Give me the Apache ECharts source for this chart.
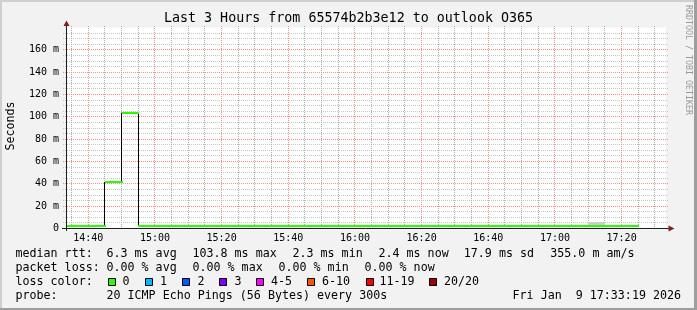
<!DOCTYPE html>
<html><head><meta charset="utf-8">
<script src="https://cdn.jsdelivr.net/npm/echarts@6/dist/echarts.min.js"></script>
<style>html,body{margin:0;padding:0;background:#f2f2f2}#c{width:697px;height:310px}</style>
</head><body><div id="c"></div>
<script>
// ---- data ----
const windowStart = '14:33:19';
const windowEnd = '17:33:19';
const stepMinutes = 5;            // rrd step 300 s
// interval end times of each 5-minute sample
const times = ['14:35','14:40','14:45','14:50','14:55',
  '15:00','15:05','15:10','15:15','15:20','15:25','15:30','15:35','15:40','15:45','15:50','15:55',
  '16:00','16:05','16:10','16:15','16:20','16:25','16:30','16:35','16:40','16:45','16:50','16:55',
  '17:00','17:05','17:10','17:15','17:20','17:25'];
// median rtt in ms
const medianMs = [2.4, 2.3, 2.4, 41.2, 103.8,
  2.4, 2.3, 2.4, 2.5, 2.4, 2.3, 2.4, 2.4, 2.3, 2.4, 2.5, 2.4,
  2.3, 2.4, 2.4, 2.3, 2.4, 2.4, 2.5, 2.4, 2.3, 2.4, 2.4, 2.3,
  2.4, 2.4, 2.3, 2.5, 2.4, 2.4];
// visible smoke (ping spread)
const smokeTimes = ['17:15'];
const smokeLowMs = [2.3];
const smokeHighMs = [5.6];
// axis ticks
const xTickLabels = ['14:40','15:00','15:20','15:40','16:00','16:20','16:40','17:00','17:20'];
const xMinorTicks = ['14:35','14:45','14:50','14:55','15:05','15:10','15:15','15:25','15:30','15:35',
  '15:45','15:50','15:55','16:05','16:10','16:15','16:25','16:30','16:35','16:45','16:50','16:55',
  '17:05','17:10','17:15','17:25','17:30'];
const yTickValues = [20, 40, 60, 80, 100, 120, 140, 160];
const yMax = 180, yInterval = 20, yMinorStep = 5;

const titleText = 'Last 3 Hours from 65574b2b3e12 to outlook O365';
const rttRow = ['median rtt:', '6.3 ms avg', '103.8 ms max', '2.3 ms min', '2.4 ms now', '17.9 ms sd', '355.0 m am/s'];
const lossRow = ['packet loss:', '0.00 % avg', '0.00 % max', '0.00 % min', '0.00 % now'];
const lossColorLabels = ['0','1','2','3','4-5','6-10','11-19','20/20'];
const lossColors = ['#26ff00','#00b8ff','#0059ff','#7e00ff','#ff00ff','#ff5500','#ff0000','#a10000'];
const probeText = '20 ICMP Echo Pings (56 Bytes) every 300s';
const dateText = 'Fri Jan  9 17:33:19 2026';

// ---- helpers ----
function toMin(s){ const p = s.split(':').map(Number); return p[0]*60 + p[1] + (p[2]||0)/60; }
function fmt(m){ const h = Math.floor(m/60), mm = Math.round(m - h*60); return String(h).padStart(2,'0') + ':' + String(mm).padStart(2,'0'); }
const xMin = toMin(windowStart), xMax = toMin(windowEnd);
const majorX = xTickLabels.map(toMin);
const minorX = xMinorTicks.map(toMin);
const minorY = [];
for (let v = yMinorStep; v < yMax; v += yMinorStep) { if (v % yInterval !== 0) minorY.push(v); }

const segData = times.map((t,i) => [toMin(t) - stepMinutes, toMin(t), medianMs[i]]);
const jumpData = [];
for (let i = 1; i < times.length; i++) jumpData.push([toMin(times[i]) - stepMinutes, medianMs[i-1], medianMs[i]]);
const smokeData = smokeTimes.map((t,i) => [toMin(t) - stepMinutes, toMin(t), smokeLowMs[i], smokeHighMs[i]]);

const MONO = '"DejaVu Sans Mono", monospace';
const F = 11.67;
const MINOR_C = '#c6c6c6', MINOR_V = '#adadad', MAJOR_C = '#ec9090';
const chart = echarts.init(document.getElementById('c'), null, {renderer:'canvas'});
const snap = v => Math.floor(v) + 0.5;

function vgrid(color){
  return function(params, api){
    const v = api.value(0);
    const a = api.coord([v, yMax]), b = api.coord([v, 0]);
    const x = snap(a[0]);
    return {type:'line', shape:{x1:x, y1:Math.floor(a[1]) - 1, x2:x, y2:Math.round(b[1])},
      style:{stroke:color, lineWidth:1, lineDash:[1,1]}};
  };
}
function hgrid(color){
  return function(params, api){
    const v = api.value(1);
    const a = api.coord([xMin, v]), b = api.coord([xMax, v]);
    const y = snap(a[1]);
    return {type:'line', shape:{x1:Math.round(a[0])-3, y1:y, x2:Math.round(b[0])+2, y2:y},
      style:{stroke:color, lineWidth:1, lineDash:[1,1]}};
  };
}

const G = [];
// frame
G.push({type:'rect', shape:{x:0,y:0,width:697,height:2}, style:{fill:'#cfcfcf'}, z:100});
G.push({type:'rect', shape:{x:0,y:0,width:2,height:310}, style:{fill:'#cfcfcf'}, z:100});
G.push({type:'rect', shape:{x:0,y:308,width:697,height:2}, style:{fill:'#9e9e9e'}, z:101});
G.push({type:'rect', shape:{x:694,y:0,width:3,height:310}, style:{fill:'#9e9e9e'}, z:101});
// axes lines + arrows
G.push({type:'line', shape:{x1:66.5,y1:25,x2:66.5,y2:231}, style:{stroke:'#1f1f1f', lineWidth:1}, z:50});
G.push({type:'line', shape:{x1:62,y1:228.5,x2:669,y2:228.5}, style:{stroke:'#1f1f1f', lineWidth:1}, z:50});
G.push({type:'polygon', shape:{points:[[66.5,20.5],[63.5,26],[69.5,26]]}, style:{fill:'#801f1f'}, z:51});
G.push({type:'polygon', shape:{points:[[674.5,228.5],[668.5,225.5],[668.5,231.5]]}, style:{fill:'#801f1f'}, z:51});
// title
G.push({type:'text', x:348.5, y:19, style:{text:titleText, font:'13.33px '+MONO, fill:'#000', align:'center', verticalAlign:'middle'}});
// y title
G.push({type:'text', x:10.5, y:126, rotation:Math.PI/2, style:{text:'Seconds', font:F+'px '+MONO, fill:'#000', align:'center', verticalAlign:'middle'}});
// watermark
G.push({type:'text', x:688, y:60, rotation:-Math.PI/2, style:{text:'RRDTOOL / TOBI OETIKER', font:'8.3px '+MONO, fill:'#999999', align:'center', verticalAlign:'middle'}});
// legend rows
const rowY = [254, 267.8, 281.8, 295.6];
const rttX = [15.5, 106.5, 192.5, 292.5, 378.5, 463.8, 550.3];
rttRow.forEach((t,i)=>G.push({type:'text', x:rttX[i], y:rowY[0], style:{text:t, font:F+'px '+MONO, fill:'#000', verticalAlign:'middle'}}));
const lossX = [15.5, 106.5, 192.5, 278.5, 364.5];
lossRow.forEach((t,i)=>G.push({type:'text', x:lossX[i], y:rowY[1], style:{text:t, font:F+'px '+MONO, fill:'#000', verticalAlign:'middle'}}));
G.push({type:'text', x:15.5, y:rowY[2], style:{text:'loss color:', font:F+'px '+MONO, fill:'#000', verticalAlign:'middle'}});
const boxX = [108.5, 145.5, 182.5, 219.5, 256.5, 307.5, 366.5, 429.5];
const lblX = [122.5, 160, 197.5, 234.5, 271, 322, 379.5, 444];
lossColorLabels.forEach((t,i)=>{
  G.push({type:'rect', shape:{x:boxX[i], y:278.5, width:7, height:7}, style:{fill:lossColors[i], stroke:'#000', lineWidth:1}});
  G.push({type:'text', x:lblX[i], y:rowY[2], style:{text:t, font:F+'px '+MONO, fill:'#000', verticalAlign:'middle'}});
});
G.push({type:'text', x:15.5, y:rowY[3], style:{text:'probe:', font:F+'px '+MONO, fill:'#000', verticalAlign:'middle'}});
G.push({type:'text', x:106.5, y:rowY[3], style:{text:probeText, font:F+'px '+MONO, fill:'#000', verticalAlign:'middle'}});
G.push({type:'text', x:681, y:rowY[3], style:{text:dateText, font:F+'px '+MONO, fill:'#000', align:'right', verticalAlign:'middle'}});

chart.setOption({
  animation:false,
  backgroundColor:'#f2f2f2',
  grid:{left:66, top:27.5, width:600, height:201, show:true, backgroundColor:'#ffffff', borderWidth:0},
  xAxis:{type:'value', min:xMin, max:xMax,
    axisLine:{show:false}, axisTick:{show:false}, splitLine:{show:false},
    axisLabel:{customValues:majorX, formatter:fmt, fontFamily:MONO, fontSize:10, color:'#000', margin:5}},
  yAxis:{type:'value', min:0, max:yMax, interval:yInterval,
    axisLine:{show:false}, axisTick:{show:false},
    axisLabel:{formatter:v => v === 0 ? '0' : v + ' m', showMaxLabel:false, fontFamily:MONO, fontSize:10, color:'#000', margin:7},
    splitLine:{show:false}},
  graphic:G,
  series:[
    {type:'custom', name:'minorGridY', data:minorY.map(v=>[xMin, v]), renderItem:hgrid(MINOR_C), silent:true, z:1},
    {type:'custom', name:'minorGridX', data:minorX.map(v=>[v, 0]), renderItem:vgrid(MINOR_V), silent:true, z:1},
    {type:'custom', name:'majorGridX', data:majorX.map(v=>[v, 0]), renderItem:vgrid(MAJOR_C), silent:true, z:1},
    {type:'custom', name:'majorGridY', data:yTickValues.map(v=>[xMin, v]), renderItem:hgrid(MAJOR_C), silent:true, z:1},
    {type:'custom', name:'smoke', data:smokeData, clip:true, z:2, silent:true,
      renderItem:(p,api)=>{
        const a = api.coord([api.value(0), api.value(3)]), b = api.coord([api.value(1), api.value(2)]);
        const x0 = Math.round(a[0]), x1 = Math.round(b[0]), y0 = Math.round(a[1]), y1 = Math.round(b[1]);
        return {type:'rect', shape:{x:x0, y:y0, width:x1-x0, height:y1-y0}, style:{fill:'#cccccc'}};
      }},
    {type:'custom', name:'medianJumps', data:jumpData, clip:true, z:3, silent:true,
      renderItem:(p,api)=>{
        const a = api.coord([api.value(0), api.value(1)]), b = api.coord([api.value(0), api.value(2)]);
        const x = snap(a[0]);
        return {type:'line', shape:{x1:x, y1:Math.round(a[1]), x2:x, y2:Math.round(b[1])}, style:{stroke:'#000', lineWidth:1}};
      }},
    {type:'custom', name:'medianLoss0', data:segData, clip:true, z:4, silent:true,
      renderItem:(p,api)=>{
        const s = Math.max(api.value(0), xMin);
        const a = api.coord([s, api.value(2)]), b = api.coord([api.value(1), api.value(2)]);
        const y = Math.round(a[1]);
        return {type:'line', shape:{x1:Math.round(a[0]), y1:y, x2:Math.round(b[0])+1, y2:y}, style:{stroke:lossColors[0], lineWidth:2}};
      }}
  ]
});
</script></body></html>
